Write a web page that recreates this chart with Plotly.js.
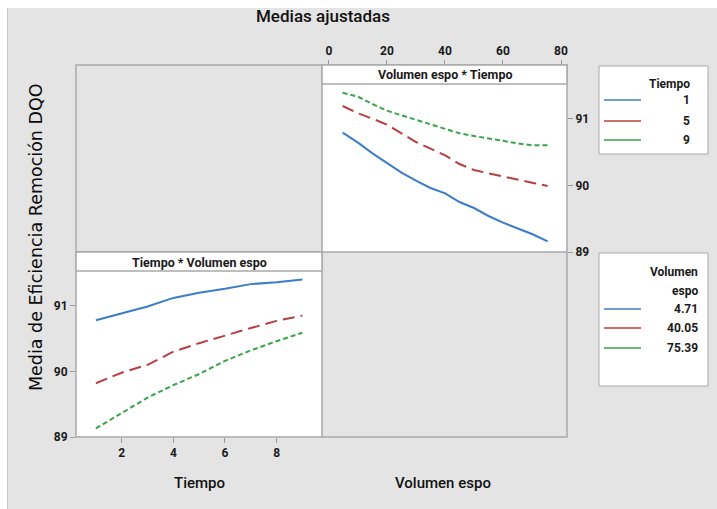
<!DOCTYPE html>
<html>
<head>
<meta charset="utf-8">
<script src="https://cdn.plot.ly/plotly-3.0.1.min.js"></script>
<style>
  html, body { margin: 0; padding: 0; background: #ffffff; }
  #chart { width: 717px; height: 509px; }
</style>
</head>
<body>
<div id="chart"></div>
<script>
// Fitted means of DQO removal efficiency (interaction plot)
const tiempoLevels = [1, 5, 9];
const volumenLevels = [4.71, 40.05, 75.39];

// Panel "Volumen espo * Tiempo": x = Volumen espo, one line per Tiempo
const volumenGrid = [4.71, 10, 15, 20, 25, 30, 35, 40.05, 45, 50, 55, 60, 65, 70, 75.39];
const mediaTiempo1 = [90.79, 90.64, 90.48, 90.34, 90.19, 90.07, 89.96, 89.88, 89.75, 89.66, 89.54, 89.44, 89.35, 89.27, 89.16];
const mediaTiempo5 = [91.19, 91.08, 91.00, 90.91, 90.78, 90.65, 90.55, 90.45, 90.32, 90.23, 90.18, 90.13, 90.09, 90.04, 89.99];
const mediaTiempo9 = [91.39, 91.33, 91.22, 91.12, 91.05, 90.98, 90.91, 90.84, 90.78, 90.74, 90.70, 90.67, 90.63, 90.60, 90.60];

// Panel "Tiempo * Volumen espo": x = Tiempo, one line per Volumen espo
const tiempoGrid = [1, 2, 3, 4, 5, 6, 7, 8, 9];
const mediaVol471 = [90.78, 90.89, 90.99, 91.12, 91.20, 91.26, 91.33, 91.36, 91.40];
const mediaVol4005 = [89.82, 89.98, 90.10, 90.30, 90.43, 90.55, 90.66, 90.77, 90.85];
const mediaVol7539 = [89.13, 89.37, 89.60, 89.79, 89.96, 90.16, 90.32, 90.46, 90.59];

const xTicksVolumen = [0, 20, 40, 60, 80];
const xTicksTiempo = [2, 4, 6, 8];
const yTicks = [89, 90, 91];

const colors = ['#3c7dc8', '#b5403f', '#39a548'];
const dashes = ['solid', '12px,6px', '5px,3px'];

const W = 717, H = 509;
const X = p => p / W;
const Y = p => 1 - p / H;

const topSeries = [mediaTiempo1, mediaTiempo5, mediaTiempo9];
const botSeries = [mediaVol471, mediaVol4005, mediaVol7539];

const traces = [];
topSeries.forEach((ys, i) => {
  traces.push({
    x: volumenGrid, y: ys, xaxis: 'x', yaxis: 'y', type: 'scatter', mode: 'lines',
    name: String(tiempoLevels[i]), showlegend: false, hoverinfo: 'skip',
    line: { color: colors[i], width: 2, dash: dashes[i] }
  });
});
botSeries.forEach((ys, i) => {
  traces.push({
    x: tiempoGrid, y: ys, xaxis: 'x2', yaxis: 'y2', type: 'scatter', mode: 'lines',
    name: String(volumenLevels[i]), showlegend: false, hoverinfo: 'skip',
    line: { color: colors[i], width: 2, dash: dashes[i] }
  });
});

const frameColor = '#a9a9a9';
const tickFont = { family: 'Roboto, sans-serif', size: 12, color: '#1a1a1a', weight: 'bold' };
const axisCommon = {
  showgrid: false, zeroline: false, showline: false,
  ticks: 'outside', ticklen: 5, tickwidth: 1, tickcolor: '#9a9a9a',
  tickfont: tickFont, fixedrange: true
};

const shapes = [];
const rect = (x0, y0, x1, y1, fill, line) => shapes.push({
  type: 'rect', xref: 'paper', yref: 'paper',
  x0: X(x0), x1: X(x1), y0: Y(y1), y1: Y(y0),
  fillcolor: fill, line: line
});
const seg = (x0, y0, x1, y1, color, width) => shapes.push({
  type: 'line', xref: 'paper', yref: 'paper',
  x0: X(x0), x1: X(x1), y0: Y(y0), y1: Y(y1),
  line: { color: color, width: width }
});

// page margin strips
rect(0, 0, 717, 8, '#ffffff', { width: 0 });
rect(0, 0, 7, 509, '#ffffff', { width: 0 });
seg(7.5, 8, 7.5, 509, '#c9c9c9', 1);

// panel grid
rect(76, 65, 567, 437, 'rgba(0,0,0,0)', { color: frameColor, width: 1.5 });
seg(322, 65, 322, 437, frameColor, 1.5);
seg(76, 252, 567, 252, frameColor, 1.5);
// strip headers
rect(322, 65, 567, 84, '#ffffff', { color: frameColor, width: 1.5 });
rect(76, 252, 322, 271, '#ffffff', { color: frameColor, width: 1.5 });

// legend boxes
rect(599, 66, 708, 154, '#ffffff', { color: '#a9a9a9', width: 1 });
rect(599, 253, 708, 386, '#ffffff', { color: '#a9a9a9', width: 1 });

const annotations = [];
const txt = (text, x, y, opts) => annotations.push(Object.assign({
  text: text, xref: 'paper', yref: 'paper', x: X(x), y: Y(y),
  showarrow: false, xanchor: 'center', yanchor: 'middle',
  font: { family: 'Roboto, sans-serif', size: 12, color: '#1a1a1a', weight: 'bold' }
}, opts || {}));

// legend 1: Tiempo
txt('Tiempo', 692, 84, { xanchor: 'right' });
const leg1Y = [100, 121, 140];
tiempoLevels.forEach((v, i) => {
  seg(604, leg1Y[i], 641, leg1Y[i], colors[i], 1.5);
  txt(String(v), 692, leg1Y[i], { xanchor: 'right' });
});

// legend 2: Volumen espo
txt('Volumen', 700, 272, { xanchor: 'right' });
txt('espo', 700, 291, { xanchor: 'right' });
const leg2Y = [309, 328, 348];
volumenLevels.forEach((v, i) => {
  seg(604, leg2Y[i], 641, leg2Y[i], colors[i], 1.5);
  txt(v.toFixed(2), 700, leg2Y[i], { xanchor: 'right' });
});

// strip titles
const stripFont = { family: 'Roboto, sans-serif', size: 12.5, color: '#1a1a1a', weight: 'bold' };
txt('Volumen espo * Tiempo', 445, 75, { font: stripFont });
txt('Tiempo * Volumen espo', 199, 262, { font: stripFont });

// titles
txt('Medias ajustadas', 323, 16, { font: { family: 'Roboto, sans-serif', size: 17, color: '#111111', weight: 500 } });
txt('Tiempo', 199, 483, { font: { family: 'Roboto, sans-serif', size: 15, color: '#111111', weight: 500 } });
txt('Volumen espo', 443, 483, { font: { family: 'Roboto, sans-serif', size: 15, color: '#111111', weight: 500 } });
txt('Media de Eficiencia Remoción DQO', 36, 237, {
  textangle: -90,
  font: { family: 'DejaVu Sans, sans-serif', size: 17.5, color: '#0a0a0a' }
});

const layout = {
  width: W, height: H,
  margin: { l: 0, r: 0, t: 0, b: 0, pad: 0 },
  paper_bgcolor: '#e4e4e4',
  plot_bgcolor: '#ffffff',
  showlegend: false,
  xaxis: Object.assign({}, axisCommon, {
    domain: [X(322), X(567)], range: [-2.41, 82.07],
    anchor: 'free', position: Y(65), side: 'top',
    tickvals: xTicksVolumen, ticktext: xTicksVolumen.map(String)
  }),
  yaxis: Object.assign({}, axisCommon, {
    domain: [Y(252), Y(84)], range: [89, 91.52],
    anchor: 'x', side: 'right',
    tickvals: yTicks, ticktext: yTicks.map(String)
  }),
  xaxis2: Object.assign({}, axisCommon, {
    domain: [X(76), X(322)], range: [0.23, 9.76],
    anchor: 'y2', side: 'bottom',
    tickvals: xTicksTiempo, ticktext: xTicksTiempo.map(String)
  }),
  yaxis2: Object.assign({}, axisCommon, {
    domain: [Y(437), Y(271)], range: [89, 91.53],
    anchor: 'x2', side: 'left',
    tickvals: yTicks, ticktext: yTicks.map(String)
  }),
  shapes: shapes,
  annotations: annotations
};

Plotly.newPlot('chart', traces, layout, { displayModeBar: false, staticPlot: true });
</script>
</body>
</html>
